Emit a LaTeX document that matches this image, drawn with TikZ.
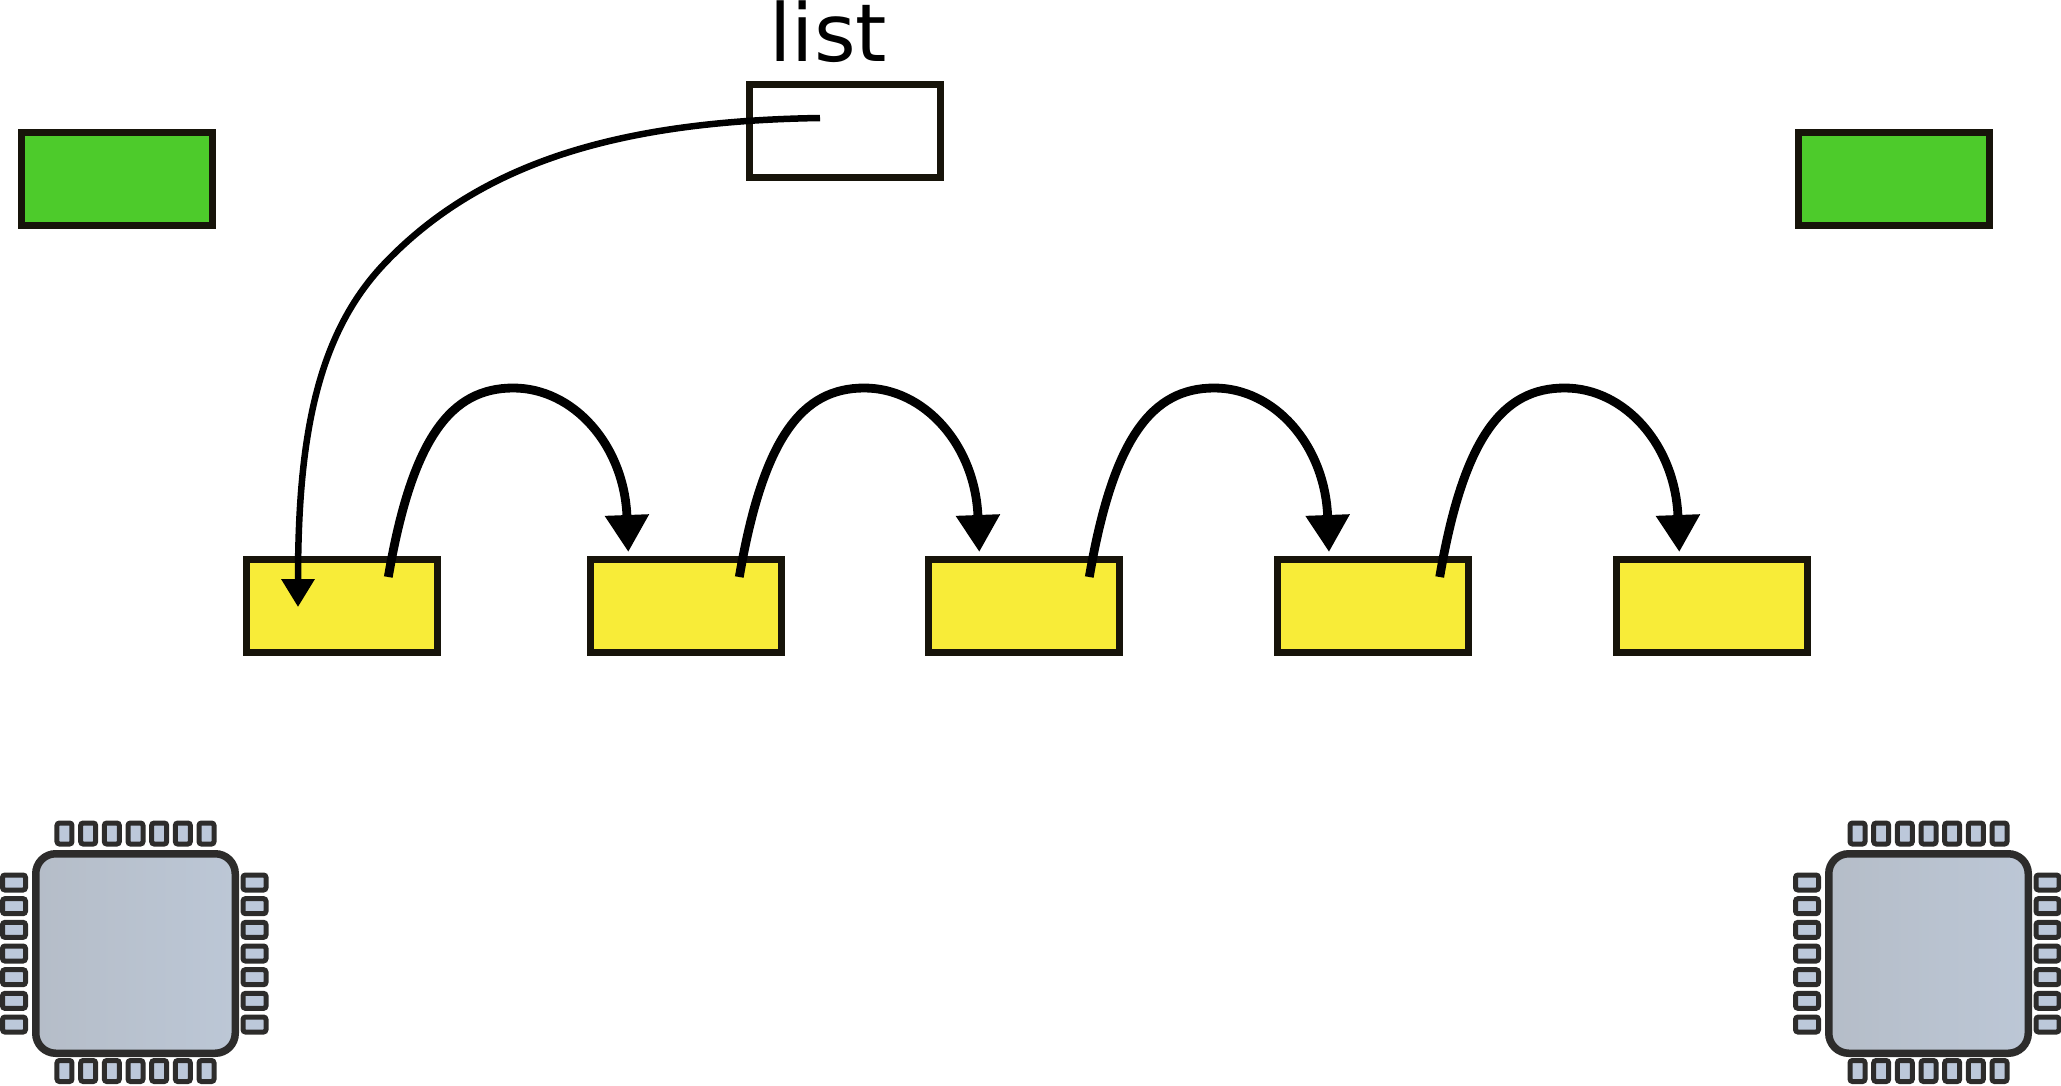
\documentclass[tikz,border=0pt]{standalone}
\usepackage{fontspec}
\setmainfont{DejaVu Sans}
\usetikzlibrary{arrows.meta}
\definecolor{boxline}{HTML}{17140A}
\definecolor{chipline}{HTML}{2D2C2B}
\definecolor{leadfill}{HTML}{BCC8DA}

\begin{document}
\begin{tikzpicture}[x=1pt,y=1pt,
        box/.style={rectangle,draw=boxline,line width=7pt,minimum width=191pt,minimum height=93pt,inner sep=0pt},
        item node/.style={box,fill=itemfill},
        free node/.style={box,fill=freefill},
        chip node/.style={rectangle,draw=chipline,line width=7.5pt,rounded corners=20pt,minimum size=199.5pt,left color=chipleft,right color=chipright},
        tall lead/.style={rectangle,draw=chipline,line width=5pt,rounded corners=2.5pt,fill=leadfill,minimum width=15pt,minimum height=21pt,inner sep=0pt},
        wide lead/.style={tall lead,minimum width=23pt,minimum height=15pt},
        next link/.style={draw=black,line width=8.8pt,-{Triangle[width=42pt,length=37pt]}},
        head link/.style={draw=black,line width=6.5pt,-{Triangle[width=32pt,length=28pt]}}]
    \definecolor{itemfill}{HTML}{F8EC38}
    \definecolor{freefill}{HTML}{4DCB2B}
    \definecolor{chipleft}{HTML}{B5BDC8}
    \definecolor{chipright}{HTML}{BCC7D6}
    \useasboundingbox (0,0) rectangle (2061,-1085);

    \node[item node] (y1) at (341.8,-606) {};
    \node[item node] (y2) [right of=y1,node distance=344.2pt] {};
    \node[item node] (y3) [right of=y2,node distance=338.2pt] {};
    \node[item node] (y4) [right of=y3,node distance=349.1pt] {};
    \node[item node] (y5) [right of=y4,node distance=338.5pt] {};

    \node[free node] (free1) at (117.3,-179) {};
    \node[free node] (free2) [right of=free1,node distance=1776.7pt] {};
    \node[box] (list) at (845,-131.3) {};
    \node[inner sep=0pt,font=\fontsize{80}{80}\selectfont] (title) [above of=list,node distance=100pt,xshift=-16.5pt] {list};

    \node[chip node] (chip1) at (135.5,-953.5) {};
    \node[chip node] (chip2) [right of=chip1,node distance=1793pt] {};
    \foreach \c in {chip1,chip2}
        \foreach \i in {-3,...,3} {
            \node[tall lead] (\c top\i) at ([shift={(\i*23.67,120)}]\c.center) {};
            \node[tall lead] (\c bot\i) at ([shift={(\i*23.67,-117.5)}]\c.center) {};
            \node[wide lead] (\c lft\i) at ([shift={(-121.5,\i*23.67)}]\c.center) {};
            \node[wide lead] (\c rgt\i) at ([shift={(119,\i*23.67)}]\c.center) {};
        }

    \coordinate (list out) at ([shift={(-25,13.3)}]list.center);
    \coordinate (head bend) at ([shift={(43.2,343)}]y1.center);
    \coordinate (y1 in) at ([shift={(-43.8,-1)}]y1.center);
    \draw[head link] (list out) .. controls +(-200,-3) and +(96.6,100.8) .. (head bend)
        .. controls +(-69,-72) and +(0,167) .. (y1 in);

    \foreach \a/\sx/\b/\ex in {y1/46.5/y2/-57.7,y2/53.3/y3/-44.9,y3/65.1/y4/-44.3,y4/66.4/y5/-32.5}
        \draw[next link] ([shift={(\sx,29)}]\a.center) .. controls +(24,140) and +(-62,0) ..
            ++(125,189) .. controls +(60,0) and +(-4,107) ..
            ([shift={(\ex,54)}]\b.center);
\end{tikzpicture}
\end{document}
